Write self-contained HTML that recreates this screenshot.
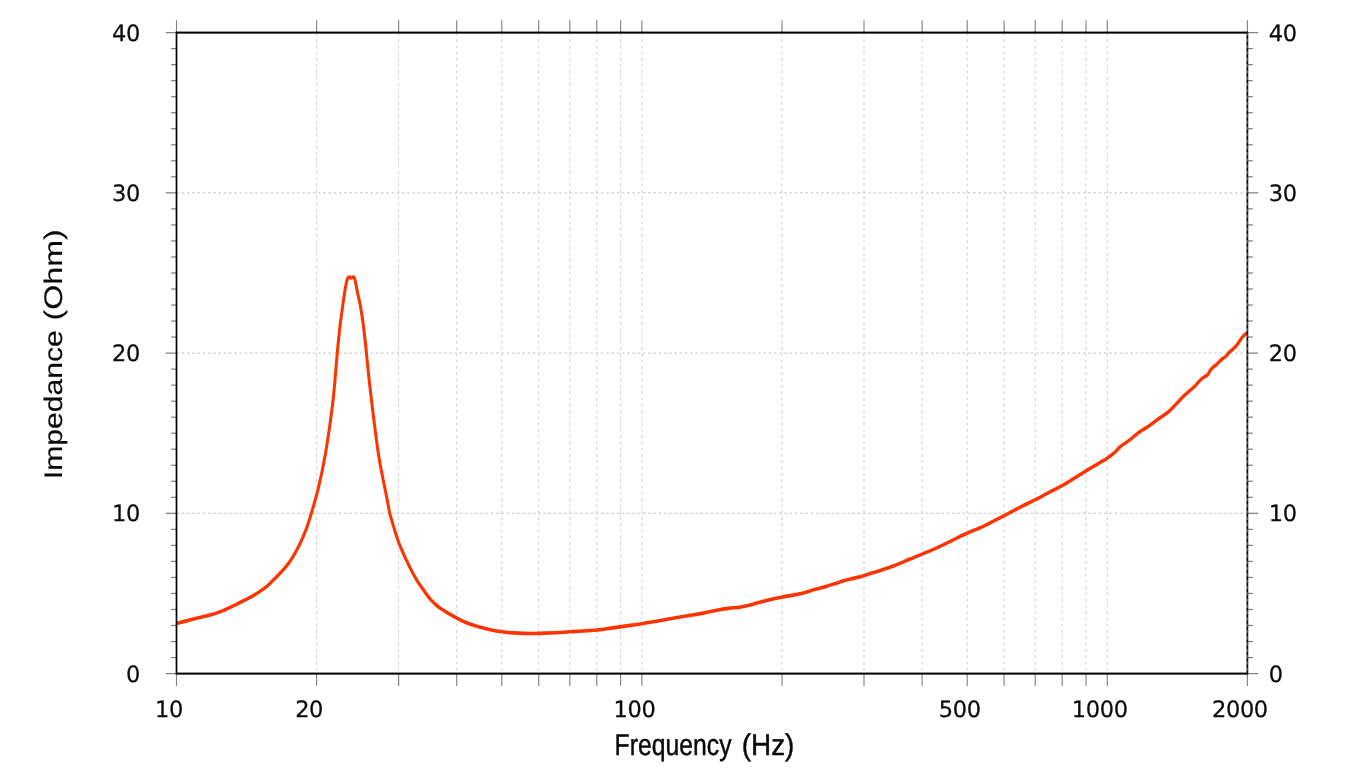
<!DOCTYPE html>
<html lang="en"><head><meta charset="utf-8"><title>Impedance vs Frequency</title>
<style>html,body{margin:0;padding:0;background:#fff;overflow:hidden}svg{display:block;will-change:transform}text{text-rendering:geometricPrecision}.n{font-family:"DejaVu Sans","Liberation Sans",sans-serif;font-size:22.5px;letter-spacing:-0.35px;fill:#0a0a0a;stroke:#0a0a0a;stroke-width:0.25px}.l{font-family:"Liberation Sans","DejaVu Sans",sans-serif;fill:#0a0a0a}</style></head><body>
<svg width="1366" height="768" viewBox="0 0 1366 768">
<rect width="1366" height="768" fill="#fff"/>
<g transform="scale(1 1.2)" fill="none">
<g stroke="#d0d0d0" stroke-width="1" stroke-dasharray="2.62 2.62">
<line x1="316.6" y1="27.17" x2="316.6" y2="561.33"/>
<line x1="398.6" y1="27.17" x2="398.6" y2="561.33"/>
<line x1="456.7" y1="27.17" x2="456.7" y2="561.33"/>
<line x1="501.8" y1="27.17" x2="501.8" y2="561.33"/>
<line x1="538.7" y1="27.17" x2="538.7" y2="561.33"/>
<line x1="569.8" y1="27.17" x2="569.8" y2="561.33"/>
<line x1="596.8" y1="27.17" x2="596.8" y2="561.33"/>
<line x1="620.6" y1="27.17" x2="620.6" y2="561.33"/>
<line x1="641.9" y1="27.17" x2="641.9" y2="561.33"/>
<line x1="782.0" y1="27.17" x2="782.0" y2="561.33"/>
<line x1="864.0" y1="27.17" x2="864.0" y2="561.33"/>
<line x1="922.1" y1="27.17" x2="922.1" y2="561.33"/>
<line x1="967.2" y1="27.17" x2="967.2" y2="561.33"/>
<line x1="1004.1" y1="27.17" x2="1004.1" y2="561.33"/>
<line x1="1035.2" y1="27.17" x2="1035.2" y2="561.33"/>
<line x1="1062.2" y1="27.17" x2="1062.2" y2="561.33"/>
<line x1="1086.0" y1="27.17" x2="1086.0" y2="561.33"/>
<line x1="1107.3" y1="27.17" x2="1107.3" y2="561.33"/>
<line x1="176.5" y1="427.79" x2="1247.4" y2="427.79"/>
<line x1="176.5" y1="294.25" x2="1247.4" y2="294.25"/>
<line x1="176.5" y1="160.71" x2="1247.4" y2="160.71"/>
</g>
<g stroke="#828282" stroke-width="1.15">
<line x1="176.5" y1="16.83" x2="176.5" y2="27.17"/>
<line x1="176.5" y1="561.33" x2="176.5" y2="571.67"/>
<line x1="316.6" y1="16.83" x2="316.6" y2="27.17"/>
<line x1="316.6" y1="561.33" x2="316.6" y2="571.67"/>
<line x1="398.6" y1="16.83" x2="398.6" y2="27.17"/>
<line x1="398.6" y1="561.33" x2="398.6" y2="571.67"/>
<line x1="456.7" y1="16.83" x2="456.7" y2="27.17"/>
<line x1="456.7" y1="561.33" x2="456.7" y2="571.67"/>
<line x1="501.8" y1="16.83" x2="501.8" y2="27.17"/>
<line x1="501.8" y1="561.33" x2="501.8" y2="571.67"/>
<line x1="538.7" y1="16.83" x2="538.7" y2="27.17"/>
<line x1="538.7" y1="561.33" x2="538.7" y2="571.67"/>
<line x1="569.8" y1="16.83" x2="569.8" y2="27.17"/>
<line x1="569.8" y1="561.33" x2="569.8" y2="571.67"/>
<line x1="596.8" y1="16.83" x2="596.8" y2="27.17"/>
<line x1="596.8" y1="561.33" x2="596.8" y2="571.67"/>
<line x1="620.6" y1="16.83" x2="620.6" y2="27.17"/>
<line x1="620.6" y1="561.33" x2="620.6" y2="571.67"/>
<line x1="641.9" y1="16.83" x2="641.9" y2="27.17"/>
<line x1="641.9" y1="561.33" x2="641.9" y2="571.67"/>
<line x1="782.0" y1="16.83" x2="782.0" y2="27.17"/>
<line x1="782.0" y1="561.33" x2="782.0" y2="571.67"/>
<line x1="864.0" y1="16.83" x2="864.0" y2="27.17"/>
<line x1="864.0" y1="561.33" x2="864.0" y2="571.67"/>
<line x1="922.1" y1="16.83" x2="922.1" y2="27.17"/>
<line x1="922.1" y1="561.33" x2="922.1" y2="571.67"/>
<line x1="967.2" y1="16.83" x2="967.2" y2="27.17"/>
<line x1="967.2" y1="561.33" x2="967.2" y2="571.67"/>
<line x1="1004.1" y1="16.83" x2="1004.1" y2="27.17"/>
<line x1="1004.1" y1="561.33" x2="1004.1" y2="571.67"/>
<line x1="1035.2" y1="16.83" x2="1035.2" y2="27.17"/>
<line x1="1035.2" y1="561.33" x2="1035.2" y2="571.67"/>
<line x1="1062.2" y1="16.83" x2="1062.2" y2="27.17"/>
<line x1="1062.2" y1="561.33" x2="1062.2" y2="571.67"/>
<line x1="1086.0" y1="16.83" x2="1086.0" y2="27.17"/>
<line x1="1086.0" y1="561.33" x2="1086.0" y2="571.67"/>
<line x1="1107.3" y1="16.83" x2="1107.3" y2="27.17"/>
<line x1="1107.3" y1="561.33" x2="1107.3" y2="571.67"/>
<line x1="1247.4" y1="16.83" x2="1247.4" y2="27.17"/>
<line x1="1247.4" y1="561.33" x2="1247.4" y2="571.67"/>
</g>
<g stroke="#828282" stroke-width="1.05">
<line x1="165.7" y1="561.33" x2="176.5" y2="561.33"/>
<line x1="1247.4" y1="561.33" x2="1258.2" y2="561.33"/>
<line x1="171.1" y1="547.98" x2="176.5" y2="547.98"/>
<line x1="1247.4" y1="547.98" x2="1252.8" y2="547.98"/>
<line x1="171.1" y1="534.63" x2="176.5" y2="534.63"/>
<line x1="1247.4" y1="534.63" x2="1252.8" y2="534.63"/>
<line x1="171.1" y1="521.27" x2="176.5" y2="521.27"/>
<line x1="1247.4" y1="521.27" x2="1252.8" y2="521.27"/>
<line x1="171.1" y1="507.92" x2="176.5" y2="507.92"/>
<line x1="1247.4" y1="507.92" x2="1252.8" y2="507.92"/>
<line x1="171.1" y1="494.56" x2="176.5" y2="494.56"/>
<line x1="1247.4" y1="494.56" x2="1252.8" y2="494.56"/>
<line x1="171.1" y1="481.21" x2="176.5" y2="481.21"/>
<line x1="1247.4" y1="481.21" x2="1252.8" y2="481.21"/>
<line x1="171.1" y1="467.85" x2="176.5" y2="467.85"/>
<line x1="1247.4" y1="467.85" x2="1252.8" y2="467.85"/>
<line x1="171.1" y1="454.50" x2="176.5" y2="454.50"/>
<line x1="1247.4" y1="454.50" x2="1252.8" y2="454.50"/>
<line x1="171.1" y1="441.15" x2="176.5" y2="441.15"/>
<line x1="1247.4" y1="441.15" x2="1252.8" y2="441.15"/>
<line x1="165.7" y1="427.79" x2="176.5" y2="427.79"/>
<line x1="1247.4" y1="427.79" x2="1258.2" y2="427.79"/>
<line x1="171.1" y1="414.44" x2="176.5" y2="414.44"/>
<line x1="1247.4" y1="414.44" x2="1252.8" y2="414.44"/>
<line x1="171.1" y1="401.08" x2="176.5" y2="401.08"/>
<line x1="1247.4" y1="401.08" x2="1252.8" y2="401.08"/>
<line x1="171.1" y1="387.73" x2="176.5" y2="387.73"/>
<line x1="1247.4" y1="387.73" x2="1252.8" y2="387.73"/>
<line x1="171.1" y1="374.38" x2="176.5" y2="374.38"/>
<line x1="1247.4" y1="374.38" x2="1252.8" y2="374.38"/>
<line x1="171.1" y1="361.02" x2="176.5" y2="361.02"/>
<line x1="1247.4" y1="361.02" x2="1252.8" y2="361.02"/>
<line x1="171.1" y1="347.67" x2="176.5" y2="347.67"/>
<line x1="1247.4" y1="347.67" x2="1252.8" y2="347.67"/>
<line x1="171.1" y1="334.31" x2="176.5" y2="334.31"/>
<line x1="1247.4" y1="334.31" x2="1252.8" y2="334.31"/>
<line x1="171.1" y1="320.96" x2="176.5" y2="320.96"/>
<line x1="1247.4" y1="320.96" x2="1252.8" y2="320.96"/>
<line x1="171.1" y1="307.60" x2="176.5" y2="307.60"/>
<line x1="1247.4" y1="307.60" x2="1252.8" y2="307.60"/>
<line x1="165.7" y1="294.25" x2="176.5" y2="294.25"/>
<line x1="1247.4" y1="294.25" x2="1258.2" y2="294.25"/>
<line x1="171.1" y1="280.90" x2="176.5" y2="280.90"/>
<line x1="1247.4" y1="280.90" x2="1252.8" y2="280.90"/>
<line x1="171.1" y1="267.54" x2="176.5" y2="267.54"/>
<line x1="1247.4" y1="267.54" x2="1252.8" y2="267.54"/>
<line x1="171.1" y1="254.19" x2="176.5" y2="254.19"/>
<line x1="1247.4" y1="254.19" x2="1252.8" y2="254.19"/>
<line x1="171.1" y1="240.83" x2="176.5" y2="240.83"/>
<line x1="1247.4" y1="240.83" x2="1252.8" y2="240.83"/>
<line x1="171.1" y1="227.48" x2="176.5" y2="227.48"/>
<line x1="1247.4" y1="227.48" x2="1252.8" y2="227.48"/>
<line x1="171.1" y1="214.13" x2="176.5" y2="214.13"/>
<line x1="1247.4" y1="214.13" x2="1252.8" y2="214.13"/>
<line x1="171.1" y1="200.77" x2="176.5" y2="200.77"/>
<line x1="1247.4" y1="200.77" x2="1252.8" y2="200.77"/>
<line x1="171.1" y1="187.42" x2="176.5" y2="187.42"/>
<line x1="1247.4" y1="187.42" x2="1252.8" y2="187.42"/>
<line x1="171.1" y1="174.06" x2="176.5" y2="174.06"/>
<line x1="1247.4" y1="174.06" x2="1252.8" y2="174.06"/>
<line x1="165.7" y1="160.71" x2="176.5" y2="160.71"/>
<line x1="1247.4" y1="160.71" x2="1258.2" y2="160.71"/>
<line x1="171.1" y1="147.35" x2="176.5" y2="147.35"/>
<line x1="1247.4" y1="147.35" x2="1252.8" y2="147.35"/>
<line x1="171.1" y1="134.00" x2="176.5" y2="134.00"/>
<line x1="1247.4" y1="134.00" x2="1252.8" y2="134.00"/>
<line x1="171.1" y1="120.65" x2="176.5" y2="120.65"/>
<line x1="1247.4" y1="120.65" x2="1252.8" y2="120.65"/>
<line x1="171.1" y1="107.29" x2="176.5" y2="107.29"/>
<line x1="1247.4" y1="107.29" x2="1252.8" y2="107.29"/>
<line x1="171.1" y1="93.94" x2="176.5" y2="93.94"/>
<line x1="1247.4" y1="93.94" x2="1252.8" y2="93.94"/>
<line x1="171.1" y1="80.58" x2="176.5" y2="80.58"/>
<line x1="1247.4" y1="80.58" x2="1252.8" y2="80.58"/>
<line x1="171.1" y1="67.23" x2="176.5" y2="67.23"/>
<line x1="1247.4" y1="67.23" x2="1252.8" y2="67.23"/>
<line x1="171.1" y1="53.87" x2="176.5" y2="53.87"/>
<line x1="1247.4" y1="53.87" x2="1252.8" y2="53.87"/>
<line x1="171.1" y1="40.52" x2="176.5" y2="40.52"/>
<line x1="1247.4" y1="40.52" x2="1252.8" y2="40.52"/>
<line x1="165.7" y1="27.17" x2="176.5" y2="27.17"/>
<line x1="1247.4" y1="27.17" x2="1258.2" y2="27.17"/>
</g>
<path d="M176.4 519.58C179.3 518.97 187.7 517.09 193.5 515.87C199.2 514.66 206.1 513.41 210.9 512.28C215.8 511.14 218.4 510.48 222.5 509.07C226.7 507.65 232.6 505.17 236.0 503.80C239.4 502.42 240.7 501.84 243.0 500.84C245.3 499.84 247.7 498.88 250.0 497.80C252.4 496.71 254.7 495.58 257.1 494.36C259.4 493.13 261.9 491.75 264.0 490.45C266.1 489.16 267.8 487.94 269.6 486.56C271.4 485.17 273.1 483.58 274.8 482.15C276.5 480.72 277.9 479.50 279.6 478.00C281.3 476.50 283.4 474.75 285.0 473.18C286.6 471.61 288.0 470.13 289.4 468.56C290.7 467.00 291.5 466.03 293.1 463.79C294.6 461.56 297.0 457.90 298.7 455.16C300.4 452.41 301.8 449.92 303.1 447.32C304.5 444.72 305.6 442.14 306.8 439.55C307.9 436.95 309.1 433.76 309.9 431.77C310.7 429.79 310.8 429.57 311.4 427.62C312.1 425.68 313.2 422.50 314.0 420.10C314.8 417.71 315.6 415.21 316.3 413.25C316.9 411.28 317.2 410.62 317.9 408.31C318.6 406.00 319.5 402.52 320.3 399.41C321.2 396.30 322.0 392.91 322.8 389.66C323.6 386.41 324.5 382.35 325.0 379.91C325.6 377.46 325.4 378.55 326.1 375.00C326.7 371.44 328.2 363.74 329.1 358.57C330.0 353.40 330.8 348.87 331.5 343.99C332.3 339.12 333.0 334.21 333.6 329.32C334.2 324.43 334.7 319.55 335.2 314.66C335.7 309.78 336.1 305.18 336.7 300.00C337.2 294.83 337.8 288.76 338.5 283.60C339.1 278.43 339.7 273.88 340.4 269.00C341.2 264.13 342.1 258.43 342.8 254.34C343.5 250.26 343.9 247.77 344.5 244.50C345.1 241.23 346.1 236.83 346.6 234.75C347.1 232.67 347.3 232.65 347.6 232.00C347.9 231.35 348.3 231.00 348.6 230.83C348.9 230.67 349.2 230.86 349.6 231.00C350.0 231.14 350.4 231.67 350.9 231.67C351.4 231.67 352.0 231.14 352.4 231.00C352.8 230.86 353.1 230.67 353.5 230.83C353.9 231.00 354.2 231.35 354.5 232.00C354.8 232.65 354.9 232.67 355.4 234.75C355.9 236.83 356.9 241.22 357.7 244.50C358.5 247.78 359.4 250.32 360.3 254.40C361.2 258.48 362.2 264.13 363.0 269.00C363.8 273.87 364.4 278.43 365.1 283.60C365.8 288.77 366.5 294.83 367.1 300.00C367.8 305.18 368.3 309.76 368.9 314.65C369.5 319.54 370.2 324.44 370.9 329.34C371.6 334.23 372.3 339.12 373.0 344.00C373.7 348.87 374.4 353.42 375.2 358.58C376.0 363.75 377.1 370.63 377.8 374.98C378.6 379.34 379.0 381.49 379.7 384.74C380.3 387.99 381.1 391.22 381.9 394.49C382.6 397.76 383.4 400.64 384.3 404.34C385.2 408.04 386.5 413.65 387.2 416.68C387.9 419.70 388.1 420.64 388.5 422.50C388.9 424.37 389.2 425.59 389.8 427.87C390.5 430.15 391.7 433.47 392.6 436.16C393.6 438.85 394.5 441.40 395.5 444.00C396.5 446.60 397.6 449.49 398.6 451.77C399.6 454.05 400.2 455.38 401.4 457.66C402.6 459.94 404.2 462.86 405.6 465.46C407.1 468.05 408.4 470.50 410.1 473.25C411.8 475.99 414.1 479.66 415.7 481.94C417.3 484.22 418.2 485.28 419.5 486.91C420.8 488.54 422.5 490.42 423.6 491.69C424.6 492.97 424.8 493.25 425.9 494.57C427.1 495.88 428.9 497.97 430.6 499.61C432.4 501.25 434.8 503.22 436.4 504.40C438.0 505.58 437.8 505.46 440.0 506.66C442.1 507.86 446.6 510.23 449.3 511.62C452.1 513.00 453.6 513.78 456.4 514.97C459.1 516.17 462.1 517.56 465.8 518.79C469.5 520.01 474.5 521.33 478.6 522.32C482.7 523.31 486.4 524.04 490.3 524.74C494.2 525.43 498.2 526.02 502.1 526.46C506.0 526.91 508.9 527.16 513.8 527.41C518.7 527.65 525.5 527.89 531.4 527.91C537.3 527.93 544.2 527.64 549.0 527.51C553.8 527.37 556.9 527.27 560.4 527.10C563.9 526.94 567.2 526.69 570.1 526.51C573.0 526.33 573.5 526.29 578.0 526.03C582.5 525.78 591.1 525.43 596.9 524.97C602.7 524.50 607.1 523.89 612.7 523.25C618.3 522.61 625.5 521.70 630.3 521.13C635.2 520.56 637.4 520.40 641.8 519.82C646.2 519.24 651.3 518.46 656.7 517.65C662.1 516.85 668.4 515.83 674.3 514.98C680.2 514.13 686.9 513.27 691.9 512.56C696.9 511.86 699.8 511.46 704.2 510.74C708.6 510.03 714.1 508.91 718.2 508.28C722.3 507.64 725.0 507.35 728.8 506.93C732.6 506.51 737.0 506.34 741.1 505.76C745.1 505.17 749.0 504.35 753.4 503.43C757.8 502.50 762.8 501.17 767.5 500.21C772.2 499.25 777.4 498.34 781.5 497.66C785.6 496.98 788.5 496.68 792.0 496.13C795.4 495.57 798.5 495.14 802.3 494.34C806.0 493.54 810.5 492.31 814.6 491.34C818.7 490.37 822.7 489.55 826.8 488.52C830.9 487.48 835.1 486.16 839.3 485.14C843.4 484.11 847.4 483.26 851.5 482.36C855.6 481.45 859.4 480.76 863.8 479.70C868.2 478.63 872.9 477.31 877.9 475.96C882.9 474.61 888.3 473.26 893.6 471.60C898.9 469.94 904.9 467.64 909.6 466.00C914.4 464.37 917.2 463.51 922.2 461.77C927.1 460.03 934.2 457.54 939.4 455.55C944.7 453.56 949.1 451.62 953.5 449.83C957.9 448.04 960.9 446.70 965.9 444.83C970.8 442.96 978.0 440.65 983.3 438.61C988.5 436.56 993.0 434.48 997.5 432.54C1002.1 430.60 1006.3 428.76 1010.5 426.96C1014.6 425.16 1018.3 423.49 1022.3 421.75C1026.4 420.00 1030.6 418.37 1035.0 416.50C1039.4 414.62 1044.2 412.45 1048.7 410.48C1053.2 408.51 1058.0 406.59 1062.1 404.68C1066.2 402.77 1069.4 401.01 1073.3 399.01C1077.2 397.01 1081.5 394.77 1085.6 392.68C1089.7 390.60 1094.3 388.31 1097.9 386.50C1101.5 384.69 1104.6 383.29 1107.2 381.83C1109.8 380.38 1111.4 379.40 1113.7 377.75C1116.0 376.10 1118.2 373.75 1120.8 371.92C1123.4 370.08 1126.7 368.64 1129.6 366.75C1132.5 364.86 1135.2 362.54 1138.4 360.58C1141.6 358.62 1145.4 357.03 1148.9 355.00C1152.4 352.97 1156.3 350.36 1159.5 348.42C1162.7 346.47 1165.5 345.26 1168.2 343.33C1171.0 341.40 1173.4 339.07 1176.0 336.83C1178.6 334.60 1181.6 331.81 1183.9 329.92C1186.2 328.03 1187.8 326.97 1189.8 325.50C1191.8 324.03 1193.8 322.71 1195.7 321.08C1197.7 319.46 1199.5 317.18 1201.5 315.75C1203.5 314.32 1205.8 313.81 1207.4 312.50C1209.0 311.19 1209.3 309.42 1210.9 307.92C1212.5 306.42 1215.0 304.88 1216.8 303.50C1218.5 302.12 1220.0 300.72 1221.4 299.67C1222.9 298.61 1224.1 298.24 1225.5 297.17C1226.9 296.10 1228.0 294.62 1229.7 293.25C1231.4 291.88 1234.0 290.29 1235.5 288.92C1237.0 287.54 1237.8 286.39 1239.0 285.00C1240.2 283.61 1241.2 281.89 1242.6 280.58C1244.0 279.28 1246.4 277.74 1247.2 277.17" stroke="#ff3300" stroke-width="3.0" stroke-linejoin="round" stroke-linecap="butt"/>
<rect x="176.5" y="27.17" width="1070.9" height="534.17" stroke="#000" stroke-width="1.7"/>
<line x1="1247.4" y1="27.17" x2="1247.4" y2="561.33" stroke="#fff" stroke-width="1" stroke-dasharray="2.62 2.62" opacity="0.35"/>
</g>
<text class="n" transform="translate(140.0 681.60) scale(1.0 1)" text-anchor="end">0</text>
<text class="n" transform="translate(1268.8 681.60) scale(1.0 1)">0</text>
<text class="n" transform="translate(140.0 521.35) scale(1.0 1)" text-anchor="end">10</text>
<text class="n" transform="translate(1268.8 521.35) scale(1.0 1)">10</text>
<text class="n" transform="translate(140.0 361.10) scale(1.0 1)" text-anchor="end">20</text>
<text class="n" transform="translate(1268.8 361.10) scale(1.0 1)">20</text>
<text class="n" transform="translate(140.0 200.85) scale(1.0 1)" text-anchor="end">30</text>
<text class="n" transform="translate(1268.8 200.85) scale(1.0 1)">30</text>
<text class="n" transform="translate(140.0 40.60) scale(1.0 1)" text-anchor="end">40</text>
<text class="n" transform="translate(1268.8 40.60) scale(1.0 1)">40</text>
<text class="n" transform="translate(169.0 716.7) scale(1.0 1)" text-anchor="middle">10</text>
<text class="n" transform="translate(309.1 716.7) scale(1.0 1)" text-anchor="middle">20</text>
<text class="n" transform="translate(634.4 716.7) scale(1.0 1)" text-anchor="middle">100</text>
<text class="n" transform="translate(959.7 716.7) scale(1.0 1)" text-anchor="middle">500</text>
<text class="n" transform="translate(1099.8 716.7) scale(1.0 1)" text-anchor="middle">1000</text>
<text class="n" transform="translate(1239.9 716.7) scale(1.0 1)" text-anchor="middle">2000</text>
<text class="l" stroke="#0a0a0a" stroke-width="0.45" font-size="30.0" y="755.0"><tspan x="614.6" textLength="117.0" lengthAdjust="spacingAndGlyphs">Frequency</tspan> <tspan x="741.8" textLength="52.6" lengthAdjust="spacingAndGlyphs">(Hz)</tspan></text>
<text class="l" stroke="#0a0a0a" stroke-width="0.15" font-size="25.5" transform="translate(61.9 0) rotate(-90)" y="0"><tspan x="-479.2" textLength="149.0" lengthAdjust="spacingAndGlyphs">Impedance</tspan> <tspan x="-320.4" textLength="91.0" lengthAdjust="spacingAndGlyphs">(Ohm)</tspan></text>
</svg></body></html>
